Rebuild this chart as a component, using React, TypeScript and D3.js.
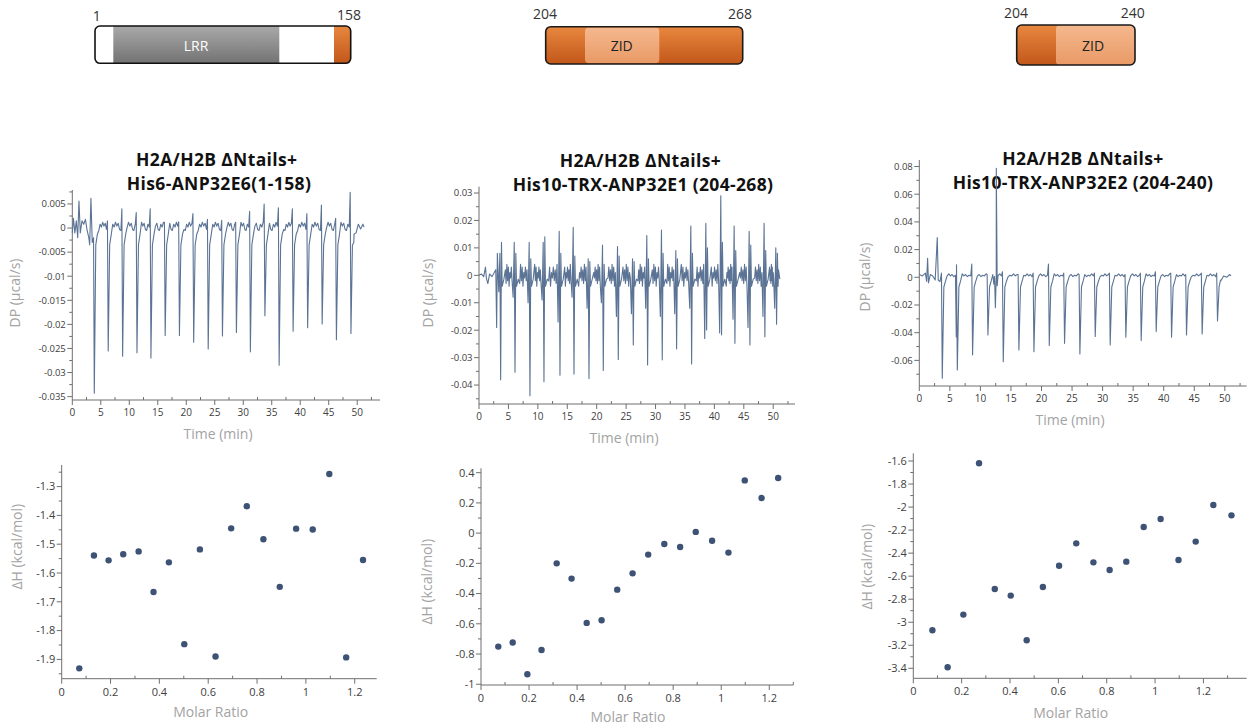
import React from "react";
import * as d3 from "d3";

type Pt = [number, number];

// ---------------- Thermogram data (DP, µcal/s vs time, min) ----------------
// Panel 1: His6-ANP32E6(1-158)
const T1_INIT: Pt[] = [[0, -0.001], [0.2, 0.002], [0.45, -0.001], [0.7, 0.0015], [0.95, -0.002], [1.17, 0.0056], [1.4, -0.001], [1.7, 0.0015], [2.0, 0.0008], [2.3, 0.0018], [2.6, -0.0005], [2.9, -0.002], [3.05, -0.0035], [3.27, 0.0062], [3.5, -0.003]];
const T1_TIMES = [3.86, 6.3, 8.83, 11.35, 13.8, 16.3, 18.8, 21.3, 23.85, 26.35, 28.8, 31.25, 33.8, 36.3, 38.75, 41.3, 43.85, 46.35, 48.9];
const T1_DOWN = [-0.0343, -0.0255, -0.0266, -0.0259, -0.027, -0.0223, -0.0223, -0.0237, -0.0251, -0.0224, -0.0217, -0.0257, -0.0182, -0.0285, -0.0214, -0.0207, -0.0199, -0.0232, -0.0219];
const T1_UP = [-0.002, 0.0015, 0.004, 0.0032, 0.004, 0.0012, 0.0013, 0.003, 0.0018, 0.0016, 0.0012, 0.0035, 0.005, 0.0042, 0.004, 0.003, 0.0048, 0.002, 0.0074];
const T1_WIGGLE = [-0.0005, 0.0008, 0.0002, 0.0012, 0.0004, 0.001, -0.0003];
const T1_TAIL: Pt[] = [[49.4, -0.003], [49.8, -0.001], [50.2, 0.0008], [50.6, -0.0002], [51.0, 0.0008], [51.2, 0.0002]];

// Panel 2: His10-TRX-ANP32E1 (204-268)
const T2_INIT: Pt[] = [[0, 0], [0.4, 0.0005], [0.8, -0.0005], [1.1, 0.003], [1.25, -0.001], [1.5, -0.003], [1.8, 0.0005], [2.2, -0.0005], [2.6, 0.001], [2.85, 0.002], [3.0, -0.019], [3.12, 0.008]];
const T2_TIMES = [3.68, 6.12, 8.66, 11.04, 13.76, 16.14, 18.69, 21.12, 23.67, 26.22, 28.65, 31.14, 33.58, 36.13, 38.68, 41.22, 43.49, 46.04, 48.58, 50.57];
const T2_DOWN = [-0.0381, -0.0353, -0.0439, -0.0388, -0.0364, -0.036, -0.0376, -0.0347, -0.0307, -0.0254, -0.0327, -0.0308, -0.0268, -0.0323, -0.0199, -0.0217, -0.0248, -0.0254, -0.0224, -0.0178];
const T2_UP = [0.008, 0.012, 0.012, 0.012, 0.016, 0.0175, 0.006, 0.011, 0.0105, 0.006, 0.0145, 0.0165, 0.009, 0.018, 0.019, 0.029, 0.018, 0.016, 0.019, 0.01];
const T2_UP2 = [0.012, 0.008, 0.006, 0.014, 0.008, 0.007, 0.005, 0.004, 0.007, 0.005, 0.006, 0.008, 0.006, 0.008, 0.01, 0.012, 0.009, 0.011, 0.009, 0.008];
const T2_DOWN2 = [-0.006, -0.008, -0.01, -0.009, -0.017, -0.008, -0.012, -0.01, -0.015, -0.014, -0.012, -0.015, -0.014, -0.012, -0.023, -0.021, -0.016, -0.019, -0.015, -0.012];
const T2_WIGGLE = [0.002, -0.003, 0.004, -0.002, 0.003, -0.004, 0.001, -0.001, 0.003, -0.002];
const T2_TAIL: Pt[] = [[50.9, 0.002], [51.1, -0.001]];

// Panel 3: His10-TRX-ANP32E2 (204-240)
const T3_INIT: Pt[] = [[0, 0.002], [0.5, 0.001], [1.0, 0.003], [1.2, -0.003], [1.36, 0.0137], [1.5, -0.004], [1.8, 0.002], [2.2, 0.001], [2.6, -0.002], [2.94, 0.0287], [3.1, -0.002], [3.4, -0.003]];
const T3_TIMES = [3.76, 6.22, 8.72, 11.23, 13.74, 16.3, 18.76, 21.27, 23.77, 26.28, 28.79, 31.24, 33.8, 36.31, 38.77, 41.28, 43.73, 46.29, 48.8];
const T3_DOWN = [-0.0729, -0.0669, -0.056, -0.0416, -0.0609, -0.0525, -0.0537, -0.0493, -0.0477, -0.0554, -0.0428, -0.0489, -0.0433, -0.0457, -0.0392, -0.0433, -0.0416, -0.0409, -0.0315];
const T3_UP = [0.003, 0.009, 0.0095, 0.002, 0.004, 0.002, 0.003, 0.0095, 0.003, 0.002, 0.003, 0.003, 0.002, 0.003, 0.004, 0.003, 0.002, 0.003, 0.003];
const T3_EXTRA: Pt[] = [[6.05, -0.043], [12.2, -0.005], [12.45, -0.022], [12.6, 0.0787], [12.75, -0.006]];
const T3_WIGGLE = [0.001, 0.0025, 0.001, 0.002, 0.0005, 0.0015];
const T3_TAIL: Pt[] = [[49.3, -0.002], [49.8, 0.001], [50.3, 0], [50.8, 0.002], [51.0, 0.001]];

// ---------------- Isotherm data (ΔH kcal/mol vs molar ratio) ----------------
const S1_X = [0.072, 0.132, 0.192, 0.252, 0.315, 0.376, 0.439, 0.502, 0.566, 0.63, 0.694, 0.758, 0.826, 0.893, 0.96, 1.028, 1.096, 1.165, 1.234];
const S1_Y = [-1.931, -1.539, -1.556, -1.535, -1.525, -1.666, -1.563, -1.847, -1.518, -1.89, -1.445, -1.368, -1.483, -1.648, -1.446, -1.449, -1.256, -1.893, -1.555];
const S2_X = [0.072, 0.132, 0.193, 0.252, 0.315, 0.377, 0.44, 0.502, 0.567, 0.631, 0.696, 0.763, 0.829, 0.894, 0.962, 1.03, 1.098, 1.168, 1.237];
const S2_Y = [-0.751, -0.724, -0.934, -0.773, -0.2, -0.301, -0.594, -0.577, -0.374, -0.266, -0.142, -0.072, -0.092, 0.008, -0.05, -0.129, 0.349, 0.232, 0.365];
const S3_X = [0.079, 0.142, 0.207, 0.272, 0.337, 0.403, 0.469, 0.536, 0.603, 0.674, 0.745, 0.812, 0.881, 0.953, 1.023, 1.097, 1.168, 1.241, 1.316];
const S3_Y = [-3.07, -3.391, -2.934, -1.62, -2.711, -2.769, -3.157, -2.694, -2.509, -2.315, -2.48, -2.546, -2.474, -2.173, -2.104, -2.46, -2.3, -1.982, -2.072];

// ---------------- Tick labels ----------------
const TIME_TICKS = [0, 5, 10, 15, 20, 25, 30, 35, 40, 45, 50];
const T1_Y_TICKS = [0.005, 0, -0.005, -0.01, -0.015, -0.02, -0.025, -0.03, -0.035];
const T2_Y_TICKS = [0.03, 0.02, 0.01, 0, -0.01, -0.02, -0.03, -0.04];
const T3_Y_TICKS = [0.08, 0.06, 0.04, 0.02, 0, -0.02, -0.04, -0.06];
const RATIO_TICKS = [0, 0.2, 0.4, 0.6, 0.8, 1, 1.2];
const S1_Y_TICKS = [-1.3, -1.4, -1.5, -1.6, -1.7, -1.8, -1.9];
const S2_Y_TICKS = [0.4, 0.2, 0, -0.2, -0.4, -0.6, -0.8, -1];
const S3_Y_TICKS = [-1.6, -1.8, -2, -2.2, -2.4, -2.6, -2.8, -3, -3.2, -3.4];

const TITLE_L1 = "H2A/H2B \u0394Ntails+";
const TITLES = ["His6-ANP32E6(1-158)", "His10-TRX-ANP32E1 (204-268)", "His10-TRX-ANP32E2 (204-240)"];

// ---------------- helpers ----------------
type TraceSpec = {
  init: Pt[]; times: number[]; up: number[]; down: number[];
  up2?: number[]; down2?: number[]; rec: number; wiggle: number[]; tail: Pt[]; extras?: Pt[];
};

function buildTrace(s: TraceSpec): Pt[] {
  const pts: Pt[] = [...s.init];
  s.times.forEach((t, i) => {
    if (s.down2) pts.push([t - 0.32, s.down2[i]]);
    pts.push([t - 0.13, s.up[i]]);
    pts.push([t, s.down[i]]);
    if (s.up2) pts.push([t + 0.14, s.up2[i]]);
    pts.push([t + 0.26, s.rec]);
    pts.push([t + 0.55, s.rec * 0.35]);
    const next = i + 1 < s.times.length ? s.times[i + 1] : s.tail[0][0];
    const start = t + 0.8;
    const stop = next - (s.down2 ? 0.5 : 0.3);
    const n = s.wiggle.length;
    if (stop > start + 0.2) {
      for (let k = 0; k < n; k++) {
        pts.push([start + ((stop - start) * k) / (n - 1), s.wiggle[(k + i) % n]]);
      }
    }
  });
  if (s.extras) pts.push(...s.extras);
  pts.push(...s.tail);
  pts.sort((a, b) => a[0] - b[0]);
  return pts;
}

const AXIS = "#6f6f6f";
const TICKTXT = "#404040";
const TITLETXT = "#a3a3a3";
const FONT = "'Open Sans', 'Noto Sans', sans-serif";

type AxesProps = {
  x: d3.ScaleLinear<number, number>; y: d3.ScaleLinear<number, number>;
  xTicks: number[]; yTicks: number[]; xMinor: number; yMinor: number;
  fx: number; fy: number; xLabelDy: number;
};

function minors(domain: number[], step: number): number[] {
  const lo = Math.min(domain[0], domain[1]);
  const hi = Math.max(domain[0], domain[1]);
  const out: number[] = [];
  for (let k = Math.ceil(lo / step - 1e-9); k <= Math.floor(hi / step + 1e-9); k++) {
    if (Math.abs(k) % 2 === 1) out.push(k * step);
  }
  return out;
}

function Axes({ x, y, xTicks, yTicks, xMinor, yMinor, fx, fy, xLabelDy }: AxesProps) {
  const [x0, x1] = x.range();
  const [y0, y1] = y.range();
  return (
    <g>
      <line x1={x0} x2={x0} y1={y0} y2={y1} stroke={AXIS} strokeWidth={1} />
      <line x1={x0} x2={x1} y1={y0} y2={y0} stroke={AXIS} strokeWidth={1} />
      {yTicks.map((v) => (
        <g key={"y" + v}>
          <line x1={x0 - 5} x2={x0} y1={y(v)} y2={y(v)} stroke={AXIS} />
          <text x={x0 - 6.5} y={y(v)} dy="0.35em" textAnchor="end" fontSize={fy} fill={TICKTXT} fontFamily={FONT}>
            {String(v)}
          </text>
        </g>
      ))}
      {minors(y.domain(), yMinor).map((v) => (
        <line key={"ym" + v} x1={x0 - 3} x2={x0} y1={y(v)} y2={y(v)} stroke={AXIS} />
      ))}
      {xTicks.map((v) => (
        <g key={"x" + v}>
          <line x1={x(v)} x2={x(v)} y1={y0} y2={y0 + 5} stroke={AXIS} />
          <text x={x(v)} y={y0 + xLabelDy} textAnchor="middle" fontSize={fx} fill={TICKTXT} fontFamily={FONT}>
            {String(v)}
          </text>
        </g>
      ))}
      {minors(x.domain(), xMinor).map((v) => (
        <line key={"xm" + v} x1={x(v)} x2={x(v)} y1={y0} y2={y0 - 3} stroke={AXIS} />
      ))}
    </g>
  );
}

function AxisTitles({ xt, xx, xy, yt, yx, yy }: { xt: string; xx: number; xy: number; yt: string; yx: number; yy: number }) {
  return (
    <g fontFamily={FONT} fill={TITLETXT} fontSize={14}>
      <text x={xx} y={xy} textAnchor="middle">{xt}</text>
      <text transform={`translate(${yx},${yy}) rotate(-90)`} textAnchor="middle" dy="0.35em">{yt}</text>
    </g>
  );
}

function Thermo(props: { spec: TraceSpec; xr: [number, number]; xd: [number, number]; yr: [number, number]; yd: [number, number]; yTicks: number[]; yMinor: number }) {
  const x = d3.scaleLinear().domain(props.xd).range(props.xr);
  const y = d3.scaleLinear().domain(props.yd).range(props.yr);
  const pts = buildTrace(props.spec);
  const line = d3.line<Pt>().x((d) => x(d[0])).y((d) => y(d[1]));
  return (
    <g>
      <Axes x={x} y={y} xTicks={TIME_TICKS} yTicks={props.yTicks} xMinor={2.5} yMinor={props.yMinor} fx={10} fy={9.5} xLabelDy={16} />
      <path d={line(pts) || ""} fill="none" stroke="#5b7394" strokeWidth={1.1} strokeLinejoin="round" />
    </g>
  );
}

function Scatter(props: { xs: number[]; ys: number[]; xr: [number, number]; xd: [number, number]; yr: [number, number]; yd: [number, number]; yTicks: number[]; yMinor: number }) {
  const x = d3.scaleLinear().domain(props.xd).range(props.xr);
  const y = d3.scaleLinear().domain(props.yd).range(props.yr);
  return (
    <g>
      <Axes x={x} y={y} xTicks={RATIO_TICKS} yTicks={props.yTicks} xMinor={0.1} yMinor={props.yMinor} fx={11} fy={11} xLabelDy={17} />
      {props.xs.map((v, i) => (
        <circle key={i} cx={x(v)} cy={y(props.ys[i])} r={3.2} fill="#3d5274" />
      ))}
    </g>
  );
}

function Title({ cx1, cx2, y1, y2, l2 }: { cx1: number; cx2: number; y1: number; y2: number; l2: string }) {
  return (
    <g fontFamily={FONT} fontWeight={700} fontSize={17.5} letterSpacing={0.35} fill="#111">
      <text x={cx1} y={y1} textAnchor="middle">{TITLE_L1}</text>
      <text x={cx2} y={y2} textAnchor="middle">{l2}</text>
    </g>
  );
}

function Domains() {
  const num = { fontFamily: FONT, fontSize: 14, fill: "#333", textAnchor: "middle" as const };
  return (
    <g>
      <defs>
        <linearGradient id="gOr" x1="0" y1="0" x2="0" y2="1">
          <stop offset="0" stopColor="#e8873f" />
          <stop offset="1" stopColor="#c2571a" />
        </linearGradient>
        <linearGradient id="gLt" x1="0" y1="0" x2="0" y2="1">
          <stop offset="0" stopColor="#f5b88e" />
          <stop offset="1" stopColor="#e99a66" />
        </linearGradient>
        <linearGradient id="gGr" x1="0" y1="0" x2="0" y2="1">
          <stop offset="0" stopColor="#a9a9a9" />
          <stop offset="1" stopColor="#737373" />
        </linearGradient>
        <clipPath id="c1"><rect x={95} y={26} width={255.7} height={37.3} rx={5} /></clipPath>
        <clipPath id="c2"><rect x={545.7} y={26.7} width={197} height={37.3} rx={5} /></clipPath>
        <clipPath id="c3"><rect x={1016.7} y={25} width={118.3} height={40} rx={5} /></clipPath>
      </defs>
      {/* bar 1 */}
      <g clipPath="url(#c1)">
        <rect x={95} y={26} width={255.7} height={37.3} fill="#fff" />
        <rect x={113.3} y={26} width={166} height={37.3} fill="url(#gGr)" />
        <rect x={334} y={26} width={17} height={37.3} fill="url(#gOr)" />
      </g>
      <rect x={95} y={26} width={255.7} height={37.3} rx={5} fill="none" stroke="#111" strokeWidth={1.6} />
      <text x={196} y={51} fontFamily={FONT} fontSize={14} fill="#fff" textAnchor="middle">LRR</text>
      <text x={96.7} y={20.5} {...num}>1</text>
      <text x={349} y={20} {...num}>158</text>
      {/* bar 2 */}
      <g clipPath="url(#c2)">
        <rect x={545.7} y={26.7} width={197} height={37.3} fill="url(#gOr)" />
        <rect x={585} y={27.5} width={74.3} height={35.8} rx={4} fill="url(#gLt)" />
      </g>
      <rect x={545.7} y={26.7} width={197} height={37.3} rx={5} fill="none" stroke="#1a1a1a" strokeWidth={1.6} />
      <text x={621.7} y={51} fontFamily={FONT} fontSize={14} fill="#222" textAnchor="middle">ZID</text>
      <text x={545} y={18.5} {...num}>204</text>
      <text x={740} y={18.5} {...num}>268</text>
      {/* bar 3 */}
      <g clipPath="url(#c3)">
        <rect x={1016.7} y={25} width={118.3} height={40} fill="url(#gOr)" />
        <rect x={1056} y={25} width={80} height={40} rx={4} fill="url(#gLt)" />
      </g>
      <rect x={1016.7} y={25} width={118.3} height={40} rx={5} fill="none" stroke="#1a1a1a" strokeWidth={1.6} />
      <text x={1093} y={51} fontFamily={FONT} fontSize={14} fill="#222" textAnchor="middle">ZID</text>
      <text x={1016} y={17.5} {...num}>204</text>
      <text x={1132.7} y={17.5} {...num}>240</text>
    </g>
  );
}

export default function App() {
  const spec1: TraceSpec = { init: T1_INIT, times: T1_TIMES, up: T1_UP, down: T1_DOWN, rec: -0.0035, wiggle: T1_WIGGLE, tail: T1_TAIL };
  const spec2: TraceSpec = { init: T2_INIT, times: T2_TIMES, up: T2_UP, down: T2_DOWN, up2: T2_UP2, down2: T2_DOWN2, rec: -0.004, wiggle: T2_WIGGLE, tail: T2_TAIL };
  const spec3: TraceSpec = { init: T3_INIT, times: T3_TIMES, up: T3_UP, down: T3_DOWN, rec: -0.007, wiggle: T3_WIGGLE, tail: T3_TAIL, extras: T3_EXTRA };
  return (
    <svg width={1259} height={725} style={{ position: "absolute", left: 0, top: 0, background: "#fff" }}>
      <rect width={1259} height={725} fill="#fff" />
      <Domains />
      <Title cx1={216.7} cx2={219} y1={166} y2={190} l2={TITLES[0]} />
      <Title cx1={640.5} cx2={643} y1={167} y2={191} l2={TITLES[1]} />
      <Title cx1={1083} cx2={1083} y1={165} y2={189} l2={TITLES[2]} />

      <Thermo spec={spec1} xr={[72.3, 380]} xd={[0, 54]} yr={[400, 190]} yd={[-0.0357, 0.0079]} yTicks={T1_Y_TICKS} yMinor={0.0025} />
      <Thermo spec={spec2} xr={[479, 795]} xd={[0, 53.7]} yr={[404, 186.7]} yd={[-0.0469, 0.0323]} yTicks={T2_Y_TICKS} yMinor={0.005} />
      <Thermo spec={spec3} xr={[919.3, 1246.7]} xd={[0, 53.58]} yr={[386, 160]} yd={[-0.0785, 0.0847]} yTicks={T3_Y_TICKS} yMinor={0.01} />

      <AxisTitles xt="Time (min)" xx={218} xy={439} yt="DP (µcal/s)" yx={15.3} yy={293} />
      <AxisTitles xt="Time (min)" xx={624} xy={443} yt="DP (µcal/s)" yx={428} yy={293} />
      <AxisTitles xt="Time (min)" xx={1070} xy={425} yt="DP (µcal/s)" yx={865} yy={277} />

      <Scatter xs={S1_X} ys={S1_Y} xr={[61.7, 376.7]} xd={[0, 1.29]} yr={[678.7, 465]} yd={[-1.967, -1.225]} yTicks={S1_Y_TICKS} yMinor={0.05} />
      <Scatter xs={S2_X} ys={S2_Y} xr={[481, 793.3]} xd={[0, 1.3]} yr={[685, 468.3]} yd={[-1.005, 0.429]} yTicks={S2_Y_TICKS} yMinor={0.1} />
      <Scatter xs={S3_X} ys={S3_Y} xr={[913.3, 1246.7]} xd={[0, 1.379]} yr={[678.3, 453.3]} yd={[-3.487, -1.533]} yTicks={S3_Y_TICKS} yMinor={0.1} />

      <AxisTitles xt="Molar Ratio" xx={210.7} xy={717} yt="ΔH (kcal/mol)" yx={16.7} yy={546.7} />
      <AxisTitles xt="Molar Ratio" xx={628} xy={722} yt="ΔH (kcal/mol)" yx={427} yy={581.7} />
      <AxisTitles xt="Molar Ratio" xx={1070.7} xy={718} yt="ΔH (kcal/mol)" yx={866.7} yy={566.7} />
    </svg>
  );
}
